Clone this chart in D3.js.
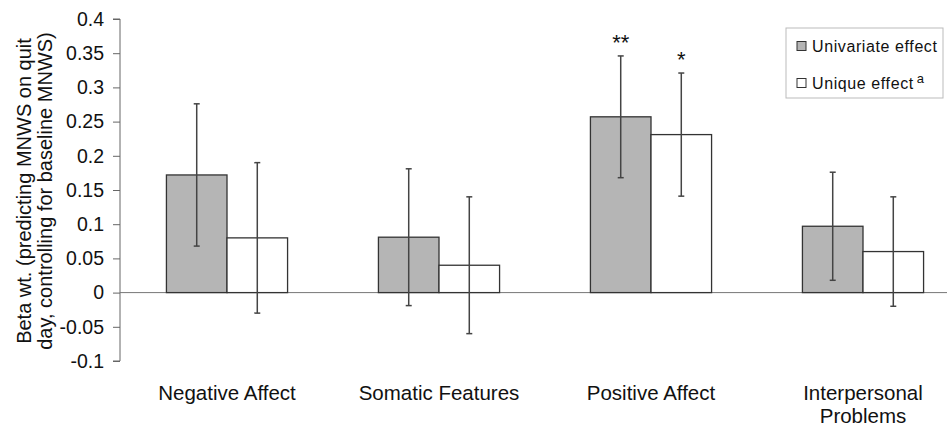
<!DOCTYPE html>
<html>
<head>
<meta charset="utf-8">
<script src="https://cdn.jsdelivr.net/npm/d3@7"></script>
<style>
  body { margin: 0; background: #fff; }
  text { font-family: "Liberation Sans", Arial, sans-serif; fill: #111; }
</style>
</head>
<body>
<div id="chart"></div>
<script>
const categories = ["Negative Affect", "Somatic Features", "Positive Affect", "Interpersonal Problems"];
const seriesNames = ["Univariate effect", "Unique effect"];
const univariate = [0.172, 0.081, 0.257, 0.097];
const univariateErr = [0.104, 0.1, 0.089, 0.079];
const unique = [0.08, 0.04, 0.231, 0.06];
const uniqueErr = [0.11, 0.1, 0.09, 0.08];
const stars = [["", ""], ["", ""], ["**", "*"], ["", ""]];
const yTicks = [-0.1, -0.05, 0, 0.05, 0.1, 0.15, 0.2, 0.25, 0.3, 0.35, 0.4];

const width = 947;
const height = 428;

const svg = d3.select("#chart")
  .append("svg")
  .attr("width", width)
  .attr("height", height);

const x = d3.scaleBand()
  .domain(categories)
  .range([121, 969]);

const inner = d3.scaleBand()
  .domain(seriesNames)
  .range([0, x.bandwidth()])
  .paddingInner(0)
  .paddingOuter(0.75);

const y = d3.scaleLinear()
  .domain([-0.1, 0.4])
  .range([361, 19]);

const fills = ["#b5b5b5", "#ffffff"];

// y axis (plain hyphen for negatives, like the original)
const yAxis = svg.append("g")
  .attr("transform", "translate(120,0)")
  .call(d3.axisLeft(y).tickValues(yTicks).tickSize(7).tickPadding(9)
    .tickFormat((d) => String(+d.toFixed(2))));
yAxis.select(".domain").attr("stroke", "#666").attr("d", `M-7,${y(0.4)}H0V${y(-0.1)}H-7`);
yAxis.selectAll(".tick line").attr("stroke", "#666");
yAxis.selectAll(".tick text").style("font-size", "19.5px").attr("fill", "#222");

// zero line
svg.append("line")
  .attr("x1", 120).attr("x2", width)
  .attr("y1", y(0)).attr("y2", y(0))
  .attr("stroke", "#777");

const rows = categories.map((c, i) => ({
  cat: c,
  vals: [
    { s: seriesNames[0], v: univariate[i], e: univariateErr[i], star: stars[i][0], k: 0 },
    { s: seriesNames[1], v: unique[i], e: uniqueErr[i], star: stars[i][1], k: 1 },
  ],
}));

const groups = svg.selectAll(".grp")
  .data(rows)
  .enter()
  .append("g")
  .attr("transform", (d) => `translate(${x(d.cat)},0)`);

groups.selectAll("rect")
  .data((d) => d.vals)
  .enter()
  .append("rect")
  .attr("x", (d) => inner(d.s))
  .attr("width", inner.bandwidth())
  .attr("y", (d) => y(d.v))
  .attr("height", (d) => y(0) - y(d.v))
  .attr("fill", (d) => fills[d.k])
  .attr("stroke", "#333")
  .attr("stroke-width", 1.3);

const err = groups.selectAll(".err")
  .data((d) => d.vals)
  .enter()
  .append("g")
  .attr("stroke", "#444")
  .attr("stroke-width", 1.5);

const cx = (d) => inner(d.s) + inner.bandwidth() / 2;

err.append("line")
  .attr("x1", cx).attr("x2", cx)
  .attr("y1", (d) => y(d.v + d.e))
  .attr("y2", (d) => y(d.v - d.e));
err.append("line")
  .attr("x1", (d) => cx(d) - 3).attr("x2", (d) => cx(d) + 3)
  .attr("y1", (d) => y(d.v + d.e)).attr("y2", (d) => y(d.v + d.e));
err.append("line")
  .attr("x1", (d) => cx(d) - 3).attr("x2", (d) => cx(d) + 3)
  .attr("y1", (d) => y(d.v - d.e)).attr("y2", (d) => y(d.v - d.e));

groups.selectAll(".star")
  .data((d) => d.vals.filter((v) => v.star))
  .enter()
  .append("text")
  .attr("x", cx)
  .attr("y", (d) => y(d.v + d.e) - 6)
  .attr("text-anchor", "middle")
  .style("font-size", "22px")
  .text((d) => d.star);

// category labels
const xLabels = svg.selectAll(".xlab")
  .data(categories)
  .enter()
  .append("text")
  .attr("text-anchor", "middle")
  .attr("x", (d) => x(d) + x.bandwidth() / 2)
  .attr("y", 400)
  .style("font-size", "20.5px");
xLabels.each(function (d) {
  const words = d === "Interpersonal Problems" ? ["Interpersonal", "Problems"] : [d];
  d3.select(this).selectAll("tspan")
    .data(words)
    .enter()
    .append("tspan")
    .attr("x", x(d) + x.bandwidth() / 2)
    .attr("dy", (w, i) => (i === 0 ? 0 : 23))
    .text((w) => w);
});

// y title
const title = svg.append("text")
  .attr("transform", "translate(0,191) rotate(-90)")
  .attr("text-anchor", "middle")
  .style("font-size", "20px");
title.append("tspan").attr("x", 0).attr("y", 31).text("Beta wt. (predicting MNWS on quit");
title.append("tspan").attr("x", 0).attr("y", 52).text("day, controlling for baseline MNWS)");

// legend
const legend = svg.append("g");
legend.append("rect")
  .attr("x", 786).attr("y", 28)
  .attr("width", 157).attr("height", 70)
  .attr("fill", "#fff")
  .attr("stroke", "#bbb");
const items = legend.selectAll(".item")
  .data(seriesNames)
  .enter()
  .append("g")
  .attr("transform", (d, i) => `translate(797,${46 + i * 37})`);
items.append("rect")
  .attr("x", 0).attr("y", -4.5)
  .attr("width", 9).attr("height", 9)
  .attr("fill", (d, i) => fills[i])
  .attr("stroke", "#333");
const lt = items.append("text")
  .attr("x", 15).attr("y", 6)
  .style("font-size", "16px")
  .style("letter-spacing", "0.6px")
  .text((d) => d);
lt.filter((d, i) => i === 1)
  .append("tspan")
  .attr("dy", -6)
  .attr("dx", 3)
  .style("font-size", "13px")
  .text("a");
</script>
</body>
</html>
